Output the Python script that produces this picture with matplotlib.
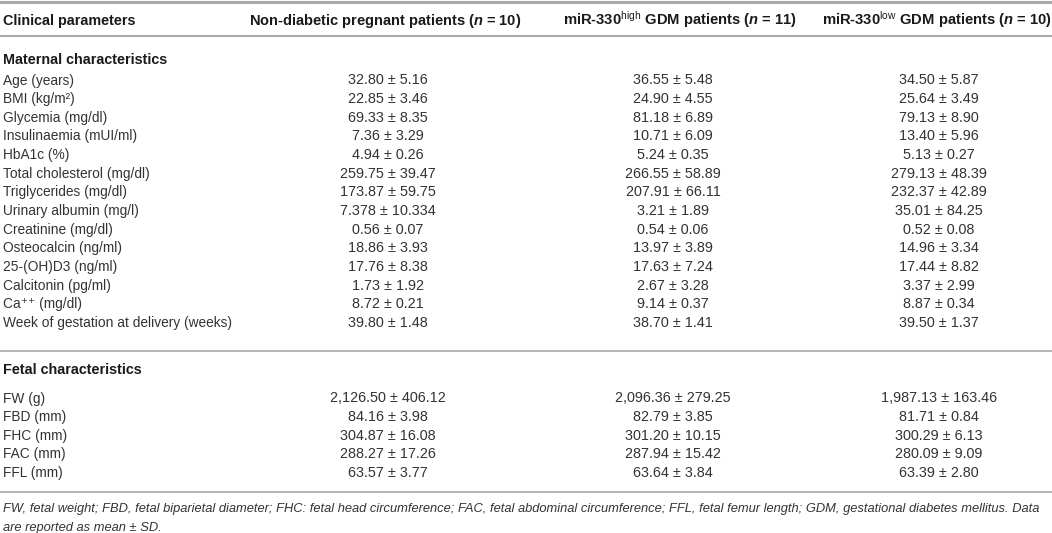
import matplotlib
matplotlib.use('Agg')
import matplotlib.pyplot as plt

plt.rcParams['font.family'] = ['Liberation Sans', 'DejaVu Sans']
plt.rcParams['mathtext.fontset'] = 'custom'
plt.rcParams['mathtext.rm'] = 'Liberation Sans'
plt.rcParams['mathtext.it'] = 'Liberation Sans:italic'
plt.rcParams['mathtext.bf'] = 'Liberation Sans:bold'
plt.rcParams['mathtext.bfit'] = 'Liberation Sans:italic:bold'

# Table content
headers = ['Clinical parameters',
           'Non-diabetic pregnant patients ($\\boldsymbol{n}$ = 10)',
           'miR-330$^{\\mathrm{high}}$ GDM patients ($\\boldsymbol{n}$ = 11)',
           'miR-330$^{\\mathrm{low}}$ GDM patients ($\\boldsymbol{n}$ = 10)']

maternal_params = ['Age (years)', 'BMI (kg/m\u00b2)', 'Glycemia (mg/dl)',
                   'Insulinaemia (mUI/ml)', 'HbA1c (%)', 'Total cholesterol (mg/dl)',
                   'Triglycerides (mg/dl)', 'Urinary albumin (mg/l)',
                   'Creatinine (mg/dl)', 'Osteocalcin (ng/ml)', '25-(OH)D3 (ng/ml)',
                   'Calcitonin (pg/ml)', 'Ca\u207a\u207a (mg/dl)',
                   'Week of gestation at delivery (weeks)']
maternal_nondiab = ['32.80 ± 5.16', '22.85 ± 3.46', '69.33 ± 8.35', '7.36 ± 3.29',
                    '4.94 ± 0.26', '259.75 ± 39.47', '173.87 ± 59.75', '7.378 ± 10.334',
                    '0.56 ± 0.07', '18.86 ± 3.93', '17.76 ± 8.38', '1.73 ± 1.92',
                    '8.72 ± 0.21', '39.80 ± 1.48']
maternal_high = ['36.55 ± 5.48', '24.90 ± 4.55', '81.18 ± 6.89', '10.71 ± 6.09',
                 '5.24 ± 0.35', '266.55 ± 58.89', '207.91 ± 66.11', '3.21 ± 1.89',
                 '0.54 ± 0.06', '13.97 ± 3.89', '17.63 ± 7.24', '2.67 ± 3.28',
                 '9.14 ± 0.37', '38.70 ± 1.41']
maternal_low = ['34.50 ± 5.87', '25.64 ± 3.49', '79.13 ± 8.90', '13.40 ± 5.96',
                '5.13 ± 0.27', '279.13 ± 48.39', '232.37 ± 42.89', '35.01 ± 84.25',
                '0.52 ± 0.08', '14.96 ± 3.34', '17.44 ± 8.82', '3.37 ± 2.99',
                '8.87 ± 0.34', '39.50 ± 1.37']

fetal_params = ['FW (g)', 'FBD (mm)', 'FHC (mm)', 'FAC (mm)', 'FFL (mm)']
fetal_nondiab = ['2,126.50 ± 406.12', '84.16 ± 3.98', '304.87 ± 16.08',
                 '288.27 ± 17.26', '63.57 ± 3.77']
fetal_high = ['2,096.36 ± 279.25', '82.79 ± 3.85', '301.20 ± 10.15',
              '287.94 ± 15.42', '63.64 ± 3.84']
fetal_low = ['1,987.13 ± 163.46', '81.71 ± 0.84', '300.29 ± 6.13',
             '280.09 ± 9.09', '63.39 ± 2.80']

footnote = ['FW, fetal weight; FBD, fetal biparietal diameter; FHC: fetal head circumference; '
            'FAC, fetal abdominal circumference; FFL, fetal femur length; GDM, gestational diabetes mellitus. Data',
            'are reported as mean ± SD.']

W, H = 1052, 533
fig = plt.figure(figsize=(W / 100, H / 100), dpi=100)
ax = fig.add_axes([0, 0, 1, 1])
ax.set_xlim(0, W)
ax.set_ylim(H, 0)
ax.axis('off')

txt = '#333333'
bold_c = '#1a1a1a'
rule = '#a8a8a8'
label_fs = 9.9
value_fs = 10.4
title_fs = 10.4
head_fs = [10.4, 10.5, 10.6, 10.6]
foot_fs = 9.3

x_label = 3
head_x = [3, 385, 680, 937]
head_ha = ['left', 'center', 'center', 'center']
val_x = [388, 673, 939]
row_h = 18.65

# rules
ax.axhline(1.5, color=rule, lw=2.2)
ax.axhline(35.5, color=rule, lw=1.5)
ax.axhline(351, color=rule, lw=1.2)
ax.axhline(492, color=rule, lw=1.2)

# header (shared baseline)
for x, h, fs, ha in zip(head_x, headers, head_fs, head_ha):
    ax.text(x, 24.5, h, ha=ha, va='baseline', fontsize=fs,
            fontweight='bold', color=bold_c)


def draw_section(title, y_title, y0, params, c1, c2, c3):
    ax.text(x_label, y_title, title, ha='left', va='center', fontsize=title_fs,
            fontweight='bold', color=bold_c)
    for i, (p, a, b, c) in enumerate(zip(params, c1, c2, c3)):
        y = y0 + i * row_h
        ax.text(x_label, y, p, ha='left', va='center', fontsize=label_fs, color=txt)
        for x, v in zip(val_x, (a, b, c)):
            ax.text(x, y, v, ha='center', va='center', fontsize=value_fs, color=txt)


draw_section('Maternal characteristics', 60, 80.5, maternal_params,
             maternal_nondiab, maternal_high, maternal_low)
draw_section('Fetal characteristics', 370, 398.5, fetal_params,
             fetal_nondiab, fetal_high, fetal_low)

for i, line in enumerate(footnote):
    ax.text(x_label, 509 + i * 18.5, line, ha='left', va='center', fontsize=foot_fs,
            style='italic', color=txt)

fig.savefig('out.png', dpi=100)
